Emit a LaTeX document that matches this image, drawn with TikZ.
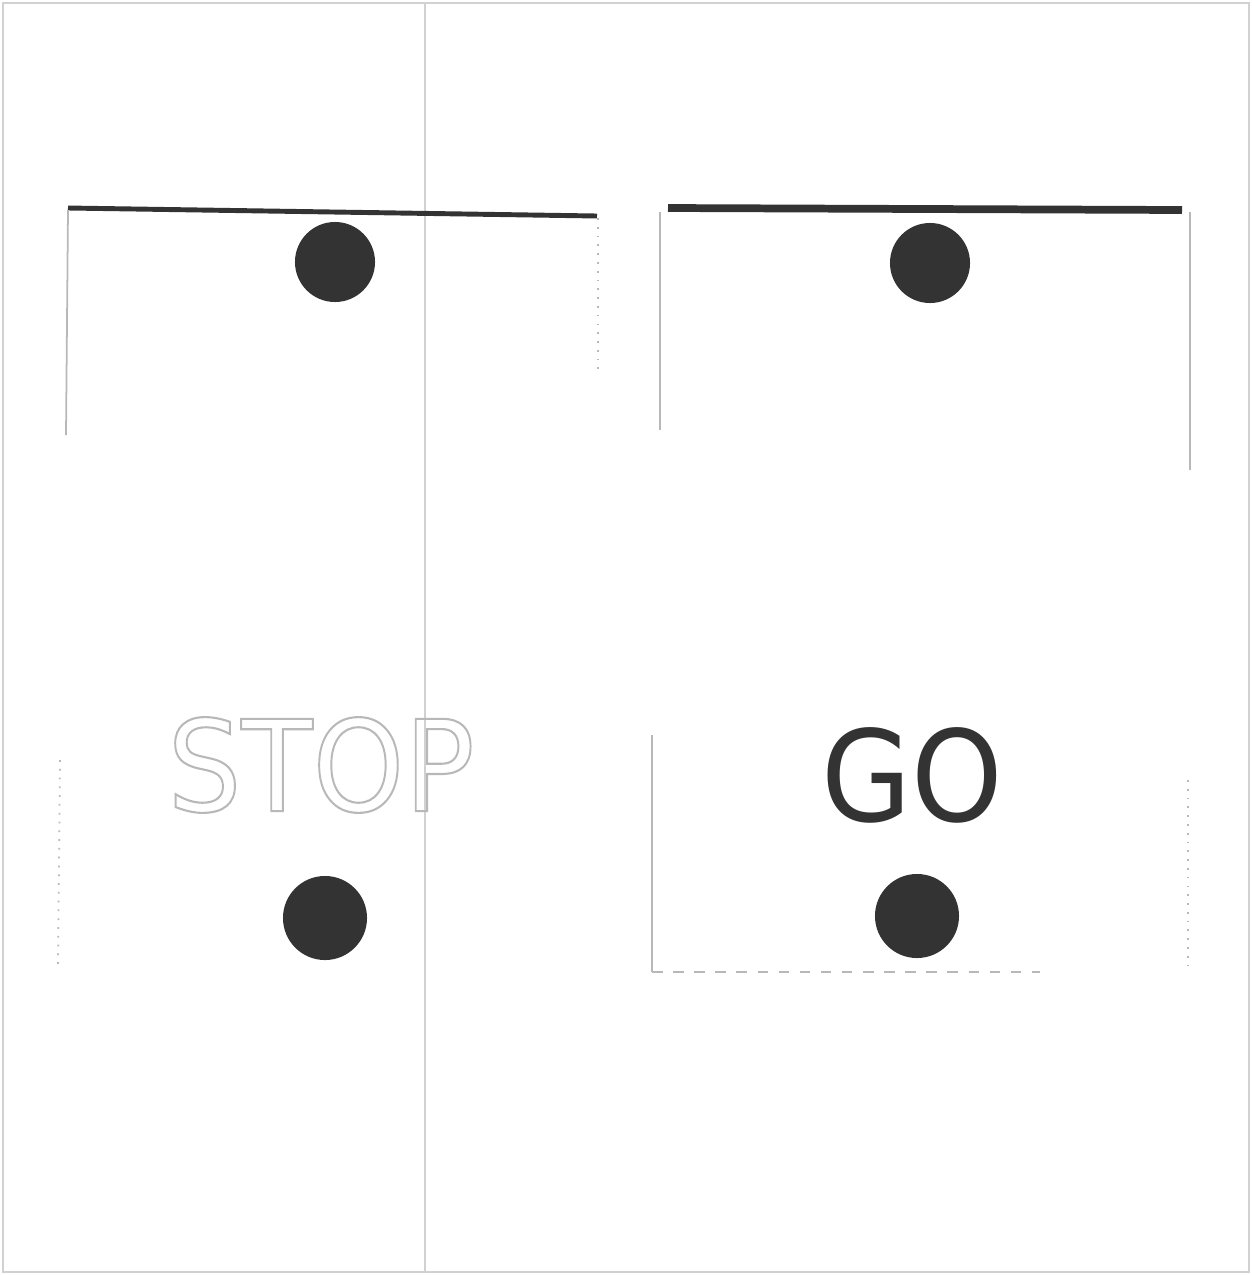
\documentclass[tikz,border=0pt]{standalone}
\usepackage{fontspec}
\newfontfamily\signfont{DejaVu Sans}
\definecolor{ink}{gray}{0.2}
\definecolor{faint}{gray}{0.72}
\definecolor{pale}{gray}{0.82}
\begin{document}
\begin{tikzpicture}[x=0.01cm,y=-0.01cm,
  topedge/.style={draw=ink,line width=1.4pt},
  sideedge/.style={draw=faint,line width=0.5pt},
  dot/.style={circle,fill=ink,inner sep=0pt,minimum size=#1},
  label/.style={font=\signfont\fontsize{36}{36}\selectfont,inner sep=0pt,xscale=0.92,transform shape}]
\useasboundingbox (0,0) rectangle (1252,1275);
% page frame and fold line
\draw[pale,line width=0.6pt] (3,3) rectangle (1249,1272);
\draw[pale,line width=0.6pt] (425,3) -- (425,1272);
% left card
\coordinate (ltl) at (68,208);
\coordinate (ltr) at (597,216);
\draw[topedge] (ltl) -- (ltr);
\draw[sideedge] (68,210) -- (66,435);
\draw[sideedge,dotted] (60,760) -- (58,965);
\draw[sideedge,dotted] (598,218) -- (598,370);
% right card
\coordinate (rtl) at (668,208);
\coordinate (rtr) at (1182,210);
\draw[topedge,line width=2.2pt] (rtl) -- (rtr);
\draw[sideedge] (660,212) -- (660,430);
\draw[sideedge] (652,735) -- (652,972);
\draw[sideedge] (1190,212) -- (1190,470);
\draw[sideedge,dotted] (1188,780) -- (1188,970);
\draw[sideedge,dashed] (652,972) -- (1040,972);
% dots
\node[dot=0.80cm] (d1) at (335,262) {};
\node[dot=0.84cm] (d2) at (325,918) {};
\node[dot=0.80cm] (d3) at (930,263) {};
\node[dot=0.84cm] (d4) at (917,916) {};
% labels
\node[label,text=faint] (stop) at (321,765) {\special{pdf:literal direct 1 Tr 0.6 w}STOP\special{pdf:literal direct 0 Tr}};
\node[label,text=ink] (go) at (912,775) {GO};
\end{tikzpicture}
\end{document}
